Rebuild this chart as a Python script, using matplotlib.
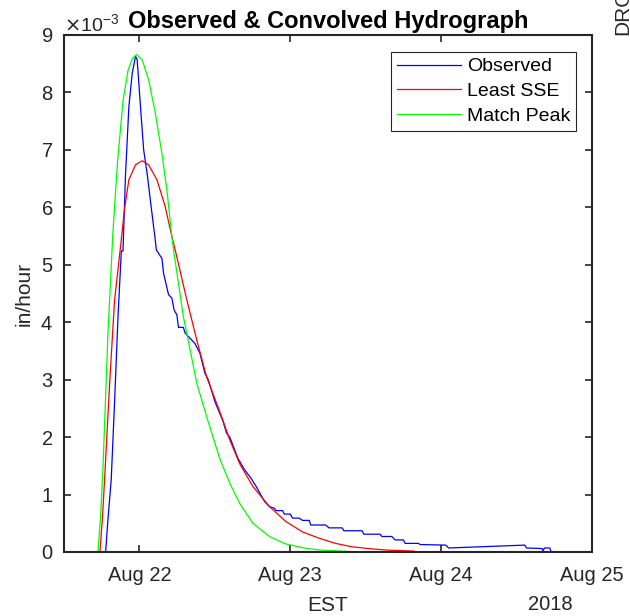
import numpy as np
import matplotlib
matplotlib.use("Agg")
import matplotlib.pyplot as plt
import matplotlib.dates as mdates
from matplotlib.ticker import ScalarFormatter
import datetime as dt

# time in days relative to 2018-08-22 00:00 EST, values in 1e-3 in/hour
obs_t = [-0.267, -0.224, -0.209, -0.187, -0.165, -0.142, -0.12, -0.109, -0.092, -0.07, -0.048, -0.026,
         -0.015, 0.007, 0.028, 0.051, 0.072, 0.105, 0.112, 0.149, 0.16, 0.193, 0.215, 0.23, 0.248,
         0.259, 0.291, 0.303, 0.336, 0.368, 0.401, 0.434, 0.456, 0.5, 0.555, 0.577, 0.599, 0.653,
         0.697, 0.741, 0.774, 0.829, 0.862, 0.895, 0.906, 0.949, 0.96, 1.0, 1.015, 1.059, 1.081,
         1.125, 1.136, 1.234, 1.257, 1.344, 1.355, 1.476, 1.487, 1.596, 1.607, 1.673, 1.695, 1.75,
         1.761, 1.85, 1.86, 2.03, 2.05, 2.555, 2.565, 2.67, 2.675, 2.685, 2.72, 2.73]
obs_v = [0.0, 0.0, 0.56, 1.26, 2.6, 4.1, 5.24, 5.24, 6.59, 7.75, 8.33, 8.63,
         8.57, 7.75, 7.0, 6.59, 6.13, 5.43, 5.26, 5.11, 4.85, 4.48, 4.42, 4.21, 4.13,
         3.91, 3.91, 3.81, 3.72, 3.63, 3.46, 3.11, 3.0, 2.62, 2.27, 2.07, 2.0, 1.63,
         1.43, 1.28, 1.14, 0.88, 0.79, 0.76, 0.72, 0.72, 0.66, 0.66, 0.59, 0.59, 0.55,
         0.55, 0.47, 0.47, 0.42, 0.42, 0.37, 0.37, 0.31, 0.31, 0.27, 0.27, 0.21, 0.21,
         0.15, 0.15, 0.13, 0.12, 0.07, 0.12, 0.07, 0.06, 0.02, 0.07, 0.07, 0.0]

sse_t = [-0.262, -0.245, -0.231, -0.198, -0.165, -0.12, -0.1, -0.07, -0.026, 0.018, 0.061, 0.116,
         0.171, 0.215, 0.237, 0.314, 0.38, 0.445, 0.533, 0.599, 0.664, 0.752, 0.862, 0.971,
         1.081, 1.191, 1.30, 1.41, 1.52, 1.63, 1.82]
sse_v = [0.0, 0.6, 1.26, 2.91, 4.38, 5.44, 5.95, 6.48, 6.74, 6.81, 6.74, 6.48,
         6.01, 5.49, 5.26, 4.39, 3.69, 3.05, 2.44, 1.95, 1.54, 1.14, 0.79, 0.53,
         0.35, 0.24, 0.15, 0.09, 0.06, 0.035, 0.015]

peak_t = [-0.275, -0.258, -0.242, -0.209, -0.176, -0.145, -0.109, -0.076, -0.045, -0.018, 0.018, 0.061,
          0.105, 0.149, 0.182, 0.215, 0.226, 0.291, 0.336, 0.38, 0.445, 0.507, 0.533, 0.599, 0.664,
          0.752, 0.862, 0.971, 1.081, 1.19, 1.41, 1.82]
peak_v = [0.0, 0.6, 1.44, 3.79, 5.56, 6.8, 7.85, 8.38, 8.6, 8.66, 8.57, 8.22,
          7.64, 6.94, 6.3, 5.49, 5.26, 4.10, 3.52, 2.94, 2.36, 1.84, 1.62, 1.20, 0.85,
          0.50, 0.27, 0.14, 0.075, 0.035, 0.006, 0.0]

series_names = ["Observed", "Least SSE", "Match Peak"]
tick_labels = ["Aug 22", "Aug 23", "Aug 24", "Aug 25"]

base = dt.datetime(2018, 8, 22)
def to_num(ts):
    return mdates.date2num(base) + np.asarray(ts)

plt.rcParams['font.family'] = ['Liberation Sans', 'DejaVu Sans']
fig = plt.figure(figsize=(6.30, 6.16), dpi=100)
ax = fig.add_axes([0.1016, 0.1039, 0.8381, 0.8393])

ax.plot(to_num(obs_t), np.asarray(obs_v) * 1e-3, color=(0, 0, 1), lw=0.9, label=series_names[0])
ax.plot(to_num(sse_t), np.asarray(sse_v) * 1e-3, color=(1, 0, 0), lw=0.9, label=series_names[1])
ax.plot(to_num(peak_t), np.asarray(peak_v) * 1e-3, color=(0, 1, 0), lw=0.9, label=series_names[2])

ax.set_xlim(mdates.date2num(base) - 0.5, mdates.date2num(base) + 3.0)
ax.set_ylim(0, 9e-3)
ax.set_xticks([mdates.date2num(base) + i for i in range(4)])
ax.set_xticklabels(tick_labels)
ax.set_yticks(np.arange(0, 10) * 1e-3)
fmt = ScalarFormatter(useMathText=True)
fmt.set_powerlimits((-2, 2))
ax.yaxis.set_major_formatter(fmt)
ax.yaxis.get_offset_text().set_fontsize(14)
ax.yaxis.get_offset_text().set_color('#262626')

ax.tick_params(direction='in', length=5, width=1.2, top=True, right=True,
               labelsize=14.5, labelcolor='#262626', color='#262626')
ax.tick_params(axis='x', pad=10)
ax.tick_params(axis='y', pad=8)
for s in ax.spines.values():
    s.set_linewidth(1.5)
    s.set_color('#262626')

ax.set_title("Observed & Convolved Hydrograph", fontsize=17, fontweight='bold', pad=5)
ax.set_ylabel("in/hour", fontsize=15, color='#262626', labelpad=5)
ax.set_xlabel("EST", fontsize=15, color='#262626', labelpad=8)
fig.text(0.873, 0.004, "2018", fontsize=14.5, color='#262626', ha='center', va='bottom')
fig.text(0.988, 0.943, "DRO", fontsize=15, color='#262626', rotation=90, ha='center', va='bottom')

leg = ax.legend(loc='upper right', bbox_to_anchor=(0.970, 0.967), borderaxespad=0, fontsize=14,
                handlelength=3.3, handletextpad=0.3, borderpad=0.3, labelspacing=0.36,
                fancybox=False, framealpha=1, edgecolor='#262626')
leg.get_frame().set_linewidth(0.8)

fig.savefig("out.png", dpi=100)
